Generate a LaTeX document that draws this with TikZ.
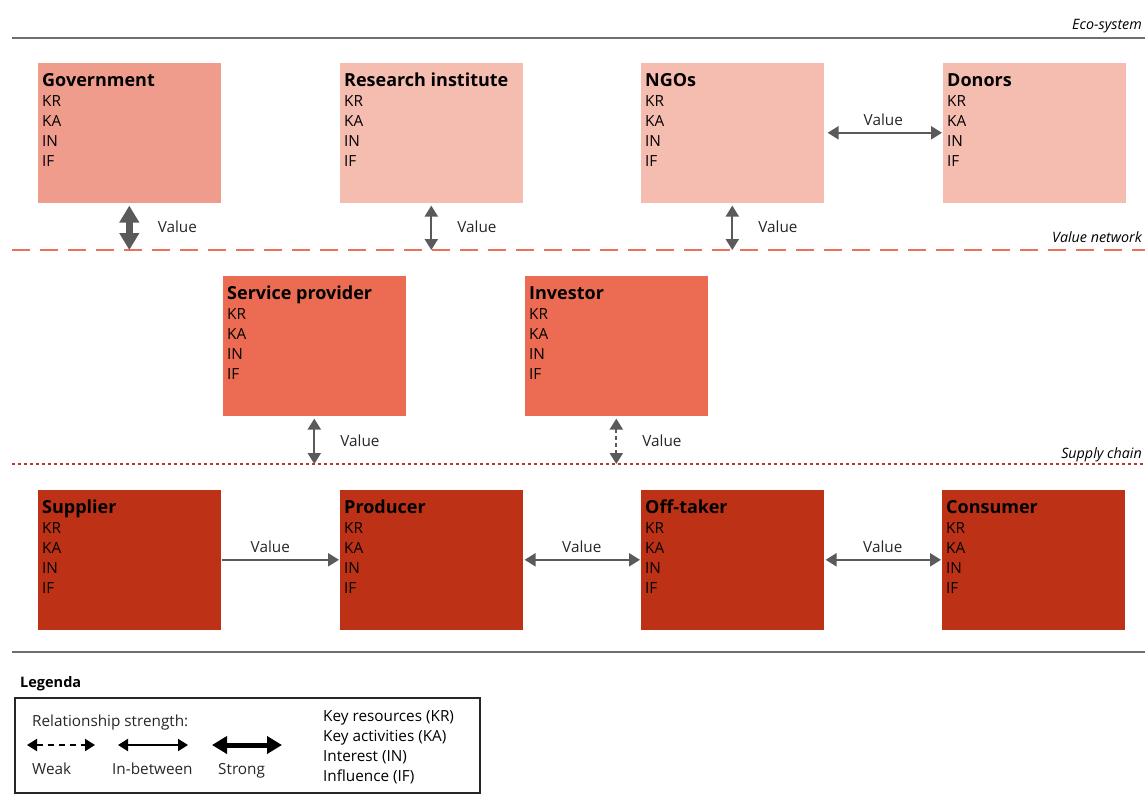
\documentclass[tikz,border=0pt]{standalone}
\usepackage{fontspec}
\setmainfont{Open Sans}
\usetikzlibrary{arrows.meta}

\definecolor{govred}{RGB}{240,156,140}
\definecolor{palered}{RGB}{245,188,176}
\definecolor{midred}{RGB}{235,108,82}
\definecolor{darkred}{RGB}{189,49,22}
\definecolor{netred}{RGB}{238,111,87}
\definecolor{chainred}{RGB}{192,54,32}
\definecolor{linegray}{RGB}{110,110,110}
\definecolor{arrowgray}{RGB}{90,90,90}

\tikzset{
  entity/.style={anchor=north west, minimum width=184pt, minimum height=141pt,
    inner sep=0pt, draw=white, line width=0.6pt},
  entitytext/.style={anchor=base west, align=left, inner sep=0pt, text=black,
    font=\fontsize{15.3}{20}\selectfont},
  valuelabel/.style={inner sep=0pt, text=black!85, font=\fontsize{15.3}{17}\selectfont},
  bandlabel/.style={anchor=base east, inner sep=0pt, font=\fontsize{14.3}{17}\selectfont\itshape},
  valarrow/.style={arrowgray, line width=2.2pt,
    {Triangle[length=11pt,width=13pt]}-{Triangle[length=11pt,width=13pt]}},
  onewayarrow/.style={arrowgray, line width=2.2pt, -{Triangle[length=11pt,width=13pt]}},
  strongarrow/.style={arrowgray, line width=7pt,
    {Triangle[length=17pt,width=19pt]}-{Triangle[length=17pt,width=19pt]}},
  sepline/.style={linegray, line width=2.5pt}
}

\begin{document}
\begin{tikzpicture}[x=1pt, y=-1pt]
\useasboundingbox (0,0) rectangle (1145,796);

% Band lines
\draw[sepline] (12,38) -- (1145,38);
\node[bandlabel] (ecolabel) at (1142,29) {Eco-system};
\draw[netred, line width=2.5pt, dash pattern=on 18pt off 10pt] (12,250) -- (1145,250);
\node[bandlabel] (netlabel) at (1142,242) {Value network};
\draw[chainred, line width=2pt, dash pattern=on 3pt off 3pt] (12,464) -- (1145,464);
\node[bandlabel] (chainlabel) at (1142,458) {Supply chain};
\draw[sepline] (12,652) -- (1145,652);
\coordinate (netline) at (0,250);
\coordinate (chainline) at (0,464);

% Eco-system row (text anchored on the baseline of its last line, IF)
\node[entity, fill=govred] (gov) at (37,62) {};
\node[entitytext] (govtext) at ([shift={(5,104)}]gov.north west)
  {{\fontsize{18}{20}\selectfont\bfseries Government}\\KR\\KA\\IN\\IF};
\node[entity, fill=palered] (res) at (339,62) {};
\node[entitytext] (restext) at ([shift={(5,104)}]res.north west)
  {{\fontsize{18}{20}\selectfont\bfseries Research institute}\\KR\\KA\\IN\\IF};
\node[entity, fill=palered] (ngo) at (640,62) {};
\node[entitytext] (ngotext) at ([shift={(5,104)}]ngo.north west)
  {{\fontsize{18}{20}\selectfont\bfseries NGOs}\\KR\\KA\\IN\\IF};
\node[entity, fill=palered] (don) at (942,62) {};
\node[entitytext] (dontext) at ([shift={(5,104)}]don.north west)
  {{\fontsize{18}{20}\selectfont\bfseries Donors}\\KR\\KA\\IN\\IF};

% Value network row
\node[entity, fill=midred] (serv) at (222,275) {};
\node[entitytext] (servtext) at ([shift={(5,104)}]serv.north west)
  {{\fontsize{18}{20}\selectfont\bfseries Service provider}\\KR\\KA\\IN\\IF};
\node[entity, fill=midred] (inv) at (524,275) {};
\node[entitytext] (invtext) at ([shift={(5,104)}]inv.north west)
  {{\fontsize{18}{20}\selectfont\bfseries Investor}\\KR\\KA\\IN\\IF};

% Supply chain row
\node[entity, fill=darkred] (sup) at (37,489) {};
\node[entitytext] (suptext) at ([shift={(5,104)}]sup.north west)
  {{\fontsize{18}{20}\selectfont\bfseries Supplier}\\KR\\KA\\IN\\IF};
\node[entity, fill=darkred] (prod) at (339,489) {};
\node[entitytext] (prodtext) at ([shift={(5,104)}]prod.north west)
  {{\fontsize{18}{20}\selectfont\bfseries Producer}\\KR\\KA\\IN\\IF};
\node[entity, fill=darkred] (off) at (640,489) {};
\node[entitytext] (offtext) at ([shift={(5,104)}]off.north west)
  {{\fontsize{18}{20}\selectfont\bfseries Off-taker}\\KR\\KA\\IN\\IF};
\node[entity, fill=darkred] (con) at (941,489) {};
\node[entitytext] (context) at ([shift={(5,104)}]con.north west)
  {{\fontsize{18}{20}\selectfont\bfseries Consumer}\\KR\\KA\\IN\\IF};

% Value relations
\draw[strongarrow, shorten <=2pt] (gov.south) -- (gov.south |- netline)
  node[valuelabel, midway, anchor=west, xshift=25pt] (govval) {Value};
\draw[valarrow, shorten <=2pt] (res.south) -- (res.south |- netline)
  node[valuelabel, midway, anchor=west, xshift=25pt] (resval) {Value};
\draw[valarrow, shorten <=2pt] (ngo.south) -- (ngo.south |- netline)
  node[valuelabel, midway, anchor=west, xshift=25pt] (ngoval) {Value};
\draw[valarrow, shorten <=3pt] (ngo.east) -- (don.west)
  node[valuelabel, midway, above=6pt] (donval) {Value};
\draw[valarrow, shorten <=2pt] (serv.south) -- (serv.south |- chainline)
  node[valuelabel, midway, anchor=west, xshift=25pt] (servval) {Value};
\draw[valarrow, dash pattern=on 4pt off 3pt, shorten <=2pt] (inv.south) -- (inv.south |- chainline)
  node[valuelabel, midway, anchor=west, xshift=25pt] (invval) {Value};
\draw[onewayarrow] (sup.east) -- (prod.west)
  node[valuelabel, midway, above=6pt, xshift=-10pt] (prodval) {Value};
\draw[valarrow, shorten <=1pt] (prod.east) -- (off.west)
  node[valuelabel, midway, above=6pt] (offval) {Value};
\draw[valarrow, shorten <=1pt] (off.east) -- (con.west)
  node[valuelabel, midway, above=6pt] (conval) {Value};

% Legend
\node[anchor=base west, inner sep=0pt, font=\fontsize{14.5}{17}\selectfont\bfseries] (legtitle) at (20,687) {Legenda};
\draw[black!85, line width=1.2pt] (15,698) rectangle (480,793);
\node[valuelabel, anchor=base west] (legstrength) at (32,726) {Relationship strength:};
\draw[black, line width=2pt, dash pattern=on 6pt off 5pt,
  {Triangle[length=10pt,width=12pt]}-{Triangle[length=10pt,width=12pt]}] (27,745) -- (95,745);
\draw[black, line width=2pt,
  {Triangle[length=10pt,width=12pt]}-{Triangle[length=10pt,width=12pt]}] (118,745) -- (188,745);
\draw[black, line width=5pt,
  {Triangle[length=15pt,width=17pt]}-{Triangle[length=15pt,width=17pt]}] (212,745) -- (282,745);
\node[valuelabel, anchor=base west] (legweak) at (32,774) {Weak};
\node[valuelabel, anchor=base west] (legmid) at (112,774) {In-between};
\node[valuelabel, anchor=base west] (legstrong) at (218,774) {Strong};
\node[entitytext] (legcodes) at (323,781)
  {Key resources (KR)\\Key activities (KA)\\Interest (IN)\\Influence (IF)};
\end{tikzpicture}
\end{document}
